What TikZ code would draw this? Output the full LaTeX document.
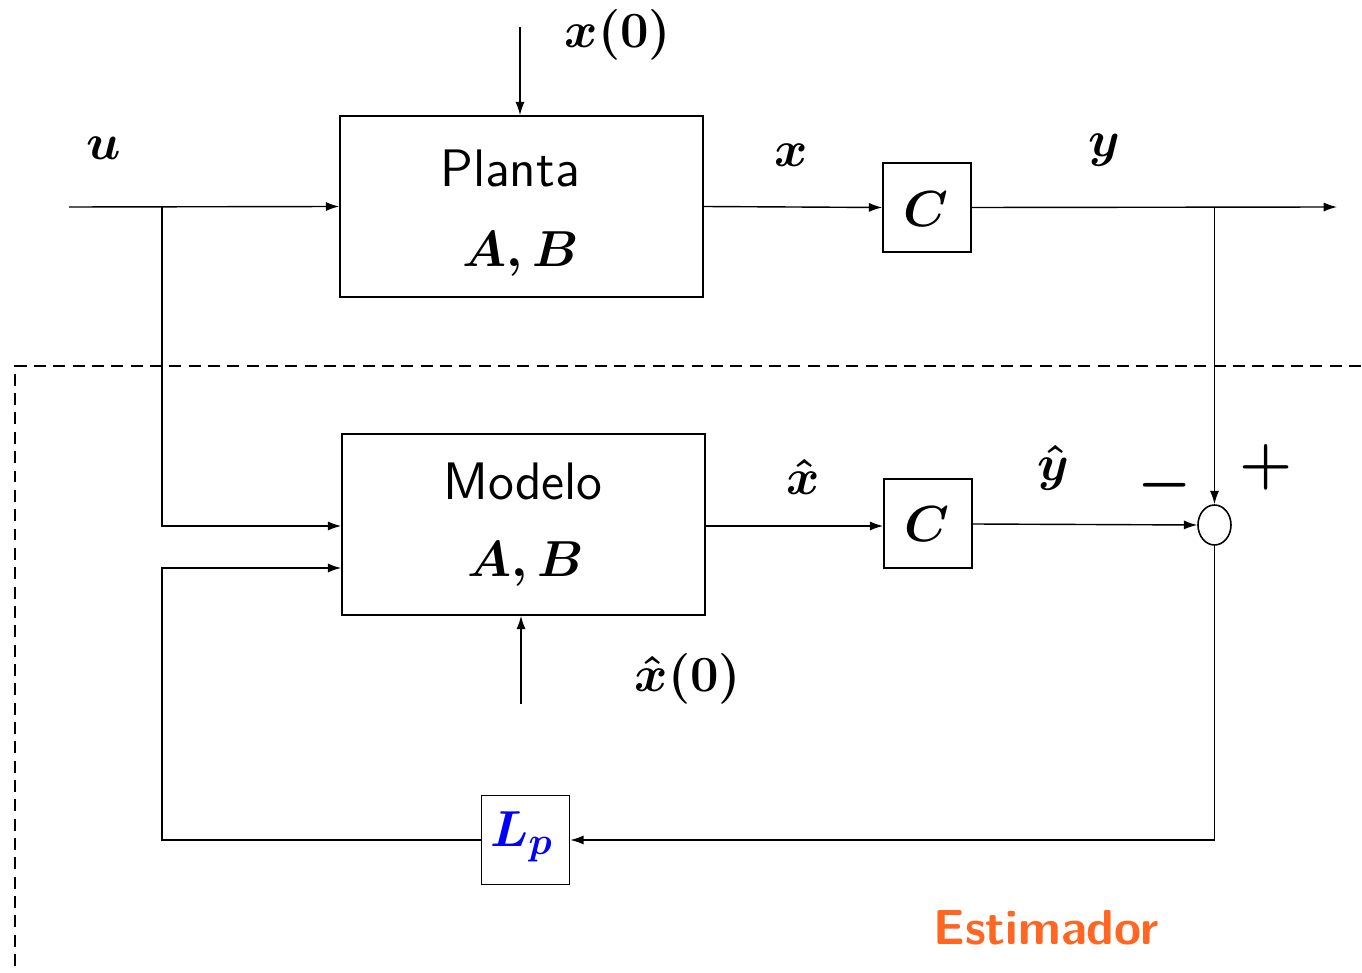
\documentclass[tikz,border=0pt]{standalone}
\usepackage{amsmath,bm}
\usetikzlibrary{arrows.meta,shapes.geometric}
\definecolor{estorange}{RGB}{255,102,34}
\begin{document}
\begin{tikzpicture}[x=0.01cm,y=-0.01cm,
  line width=0.4pt,
  blk/.style={draw,line width=0.45pt,minimum width=363*0.01cm,minimum height=181*0.01cm,inner sep=0pt},
  cbox/.style={draw,line width=0.45pt,minimum width=88*0.01cm,minimum height=89*0.01cm,inner sep=0pt},
  lbl/.style={inner sep=0pt,anchor=base,font=\fontsize{15}{18}\selectfont\boldmath},
  sgn/.style={inner sep=0pt,font=\fontsize{17.5}{21}\selectfont\boldmath},
  sig/.style={-{Latex[length=3.8pt,width=2.6pt]}},
  sumj/.style={draw,ellipse,line width=0.45pt,minimum width=33*0.01cm,minimum height=40*0.01cm,inner sep=0pt}]
\useasboundingbox (0,0) rectangle (1362,973);
% blocks
\node[blk] (plant) at (521.5,206.5) {};
\node[blk] (model) at (523.5,524.5) {};
\node[cbox] (c1) at (927,207.5) {};
\node[cbox] (c2) at (928,523.5) {};
\node[cbox] (lp) at (525.5,840) {};
% texts
\node[lbl] (tplanta) at (510,187) {\sffamily Planta};
\node[lbl] (tab1) at (521,267) {$A, B$};
\node[lbl] (tmodelo) at (523,500) {\sffamily Modelo};
\node[lbl] (tab2) at (526,577) {$A, B$};
\node[lbl] (tc1) at (926,227) {$C$};
\node[lbl] (tc2) at (927,542) {$C$};
\node[lbl] (tlp) at (522,847) {\color{blue}$L_p$};
\node[lbl] (tx0) at (618,48) {$x(0)$};
\node[lbl] (tu) at (104,160) {$u$};
\node[lbl] (tx) at (791,167) {$x$};
\node[lbl] (ty) at (1104,157) {$y$};
\node[lbl] (txh) at (803,495) {$\hat{x}$};
\node[lbl] (tyh) at (1053,481) {$\hat{y}$};
\node[lbl] (txh0) at (688,692) {$\hat{x}(0)$};
\node[sgn] (tminus) at (1165,485) {$-$};
\node[sgn] (tplus) at (1266,467) {$+$};
\node[lbl,text=estorange,font=\fontsize{14}{17}\selectfont] (test) at (1046,945) {\sffamily\bfseries Estimador};
% summing junction
\node[sumj] (sum) at (1214.5,525) {};
% coordinates
\coordinate (uin) at (69,207);
\coordinate (usplit) at (162,207);
\coordinate (umodel) at (162,526);
\coordinate (x0top) at (520,27);
\coordinate (yout) at (1337,207);
\coordinate (ysplit) at (1214.5,207);
\coordinate (xh0bot) at (521,704);
\coordinate (sumdown) at (1214.5,840);
\coordinate (fbleft) at (162,840);
\coordinate (fbup) at (162,568);
% connectors
\draw[sig] (uin) -- (plant.west);
\draw[sig] (usplit) -- (umodel) -- (umodel -| model.west);
\draw[sig] (x0top) -- (x0top |- plant.north);
\draw[sig] (plant.east) -- (c1.west);
\draw[sig] (c1.east) -- (yout);
\draw[sig] (ysplit) -- (sum.north);
\draw[sig] (model.east |- 0,526) -- (c2.west |- 0,526);
\draw[sig] (c2.east |- 0,524) -- (sum.west);
\draw[sig] (xh0bot) -- (xh0bot |- model.south);
\draw[sig] (sum.south) -- (sumdown) -- (lp.east);
\draw[sig] (lp.west) -- (fbleft) -- (fbup) -- (fbup -| model.west);
% estimator boundary
\draw[dash pattern=on 3.4pt off 2.1pt,line width=0.4pt] (15,966) -- (15,366) -- (1362,366);
\end{tikzpicture}
\end{document}
